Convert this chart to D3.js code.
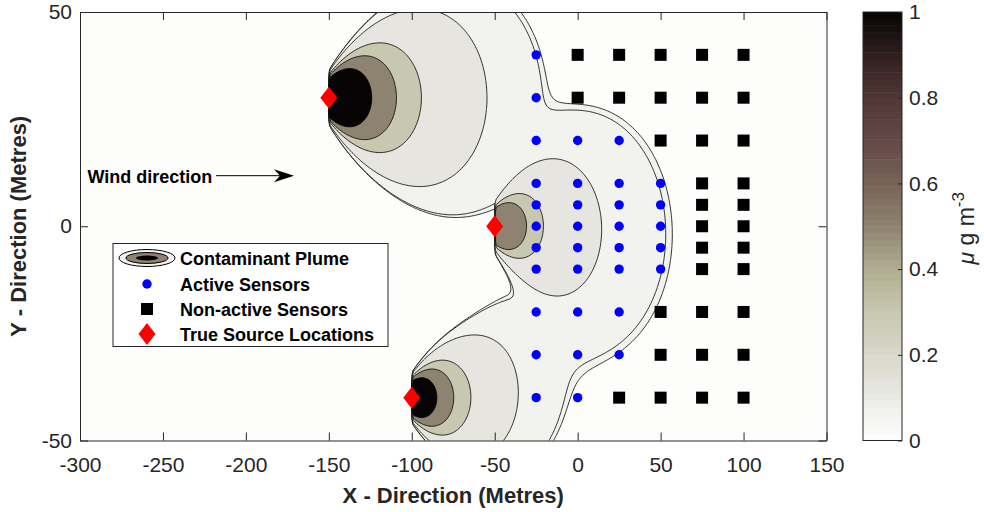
<!DOCTYPE html>
<html>
<head>
<meta charset="utf-8">
<script src="https://cdn.jsdelivr.net/npm/d3@7"></script>
<style>
  body { margin: 0; background: #fff; }
  svg { display: block; font-family: "Liberation Sans", Arial, Helvetica, sans-serif; }
</style>
</head>
<body>
<svg id="chart" width="984" height="512"></svg>
<script>
// ---- Sources (metres) and plume model parameters ----
const sourceX = [-150, -50, -100];
const sourceY = [30, 0, -40];
const sourceStrength = [806, 234, 390];
const sourcePeak = [Infinity, 0.85, Infinity];
const plumeSpread = 0.24;     // sigma_y per metre downwind
const plumeDecay = 1.9;       // power-law decay of centre-line concentration
const virtualOffset = 8;      // virtual source distance (m)

// ---- Contour levels (µg m^-3) ----
const contourLevels = [0.068, 0.071, 0.12, 0.3, 0.5, 1];

// ---- Colour map ----
const colorStops = [0, 0.07, 0.12, 0.2, 0.3, 0.4, 0.5, 0.6, 0.7, 0.8, 0.9, 1];
const colorValues = ["#fdfdfb", "#f2f2ee", "#e6e5df", "#d9d8ca", "#c8c7b0", "#b1ad92",
                     "#8e8270", "#776457", "#634948", "#523636", "#2f1f1f", "#060404"];

// ---- Sensors ----
const activeSensors = [
  [-25, 40], [-25, 30], [-25, 20], [-25, 10], [-25, 5], [-25, 0], [-25, -5], [-25, -10], [-25, -20], [-25, -30], [-25, -40],
  [0, 20], [0, 10], [0, 5], [0, 0], [0, -5], [0, -10], [0, -20], [0, -30], [0, -40],
  [25, 20], [25, 10], [25, 5], [25, 0], [25, -5], [25, -10], [25, -20], [25, -30],
  [50, 10], [50, 5], [50, 0], [50, -5], [50, -10]
];
const inactiveSensors = [
  [0, 40], [0, 30],
  [25, 40], [25, 30], [25, -40],
  [50, 40], [50, 30], [50, 20], [50, -20], [50, -30], [50, -40],
  [75, 40], [75, 30], [75, 20], [75, 10], [75, 5], [75, 0], [75, -5], [75, -10], [75, -20], [75, -30], [75, -40],
  [100, 40], [100, 30], [100, 20], [100, 10], [100, 5], [100, 0], [100, -5], [100, -10], [100, -20], [100, -30], [100, -40]
];

// ---- Axes ----
const xDomain = [-300, 150];
const yDomain = [-50, 50];
const xTicks = [-300, -250, -200, -150, -100, -50, 0, 50, 100, 150];
const yTicks = [-50, 0, 50];
const colorbarTicks = [0, 0.2, 0.4, 0.6, 0.8, 1];

// Wind annotation (data coordinates)
const windLabel = { x: -295.5, y: 10.1, text: "Wind direction" };
const windArrow = { x0: -218, x1: -171, y: 11.8 };

// ---------------------------------------------------------------
const svg = d3.select("#chart");
const pL = 80, pR = 826.5, pT = 12, pB = 440.5;
const x = d3.scaleLinear().domain(xDomain).range([pL, pR]);
const y = d3.scaleLinear().domain(yDomain).range([pB, pT]);
const color = d3.scaleLinear().domain(colorStops).range(colorValues).interpolate(d3.interpolateRgb);
const axisColor = "#262626";
const plainNumber = d => String(d);

svg.append("defs").append("clipPath").attr("id", "plotClip")
  .append("rect").attr("x", pL).attr("y", pT).attr("width", pR - pL).attr("height", pB - pT);

// Concentration field: sum of ground-level plumes advected in +x
function concentration(px, py) {
  let c = 0;
  for (let k = 0; k < sourceX.length; k++) {
    const dx = px - sourceX[k];
    if (dx <= 0) continue;
    const s = dx + virtualOffset;
    const sig = plumeSpread * s;
    const dy = py - sourceY[k];
    const v = sourceStrength[k] * Math.pow(s, -plumeDecay) * Math.exp(-dy * dy / (2 * sig * sig));
    c += Math.min(sourcePeak[k], v);
  }
  return c;
}

// Sample grid slightly larger than the axes so boundary edges stay outside the clip
const gx0 = -305, gy0 = -55, hx = 1, hy = 0.5;
const nx = Math.round((155 - gx0) / hx) + 1;
const ny = Math.round((55 - gy0) / hy) + 1;
const field = new Float64Array(nx * ny);
for (let j = 0; j < ny; j++) {
  for (let i = 0; i < nx; i++) {
    field[i + j * nx] = concentration(gx0 + i * hx, gy0 + j * hy);
  }
}

const contours = d3.contours().size([nx, ny]).thresholds(contourLevels)(field);
const gridToScreen = d3.geoTransform({
  point: function (gxp, gyp) {
    this.stream.point(x(gx0 + (gxp - 0.5) * hx), y(gy0 + (gyp - 0.5) * hy));
  }
});
const contourPath = d3.geoPath(gridToScreen);

const plot = svg.append("g").attr("clip-path", "url(#plotClip)");
plot.append("rect").attr("x", pL).attr("y", pT).attr("width", pR - pL).attr("height", pB - pT)
  .attr("fill", color(0));
plot.selectAll("path.band").data(contours).join("path")
  .attr("class", "band")
  .attr("d", contourPath)
  .attr("fill", d => color(d.value))
  .attr("stroke", "#000")
  .attr("stroke-width", 0.8)
  .attr("stroke-linejoin", "round");

// Sensors
plot.selectAll("circle.active").data(activeSensors).join("circle")
  .attr("class", "active")
  .attr("cx", d => x(d[0])).attr("cy", d => y(d[1])).attr("r", 4.7)
  .attr("fill", "#0000ff");
const sq = 12;
plot.selectAll("rect.inactive").data(inactiveSensors).join("rect")
  .attr("class", "inactive")
  .attr("x", d => x(d[0]) - sq / 2).attr("y", d => y(d[1]) - sq / 2)
  .attr("width", sq).attr("height", sq).attr("fill", "#000");

// Source markers
const dw = 8.5, dh = 11;
const diamond = (cx, cy) => `M${cx},${cy - dh}L${cx + dw},${cy}L${cx},${cy + dh}L${cx - dw},${cy}Z`;
plot.selectAll("path.source").data(sourceX.map((sx, i) => [sx, sourceY[i]])).join("path")
  .attr("class", "source")
  .attr("d", d => diamond(x(d[0]), y(d[1])))
  .attr("fill", "#ff0000");

// Wind annotation
plot.append("text")
  .attr("x", x(windLabel.x)).attr("y", y(windLabel.y))
  .attr("font-size", 18).attr("font-weight", "bold").attr("fill", "#000")
  .text(windLabel.text);
const ax0 = x(windArrow.x0), ax1 = x(windArrow.x1), ay = y(windArrow.y);
plot.append("line").attr("x1", ax0).attr("x2", ax1 - 10).attr("y1", ay).attr("y2", ay)
  .attr("stroke", "#000").attr("stroke-width", 1);
plot.append("path")
  .attr("d", `M${ax1},${ay}L${ax1 - 20},${ay - 6.5}L${ax1 - 14},${ay}L${ax1 - 20},${ay + 6.5}Z`)
  .attr("fill", "#000");

// Axes (ticks point inwards on all four sides)
const tickLen = 8;
const gx = svg.append("g").attr("transform", `translate(0,${pB})`)
  .call(d3.axisBottom(x).tickValues(xTicks).tickSizeInner(-tickLen).tickSizeOuter(0).tickPadding(17)
    .tickFormat(plainNumber));
const gxt = svg.append("g").attr("transform", `translate(0,${pT})`)
  .call(d3.axisTop(x).tickValues(xTicks).tickSizeInner(-tickLen).tickSizeOuter(0).tickFormat(""));
const gy = svg.append("g").attr("transform", `translate(${pL},0)`)
  .call(d3.axisLeft(y).tickValues(yTicks).tickSizeInner(-tickLen).tickSizeOuter(0).tickPadding(8)
    .tickFormat(plainNumber));
const gyr = svg.append("g").attr("transform", `translate(${pR},0)`)
  .call(d3.axisRight(y).tickValues(yTicks).tickSizeInner(-tickLen).tickSizeOuter(0).tickFormat(""));
[gx, gxt, gy, gyr].forEach(g => {
  g.selectAll("path.domain").attr("stroke", axisColor).attr("stroke-width", 1);
  g.selectAll(".tick line").attr("stroke", axisColor).attr("stroke-width", 1);
  g.selectAll(".tick text").attr("fill", axisColor).attr("font-size", 21)
    .attr("font-family", "'Liberation Sans', Arial, Helvetica, sans-serif");
});

// Axis titles
svg.append("text").attr("x", (pL + pR) / 2).attr("y", 503)
  .attr("text-anchor", "middle").attr("font-size", 22).attr("font-weight", "bold").attr("fill", axisColor)
  .text("X - Direction (Metres)");
svg.append("text").attr("transform", `translate(26,${(pT + pB) / 2}) rotate(-90)`)
  .attr("text-anchor", "middle").attr("font-size", 22).attr("font-weight", "bold").attr("fill", axisColor)
  .text("Y - Direction (Metres)");

// Legend
const lg = svg.append("g");
lg.append("rect").attr("x", 113).attr("y", 243.5).attr("width", 275).attr("height", 103)
  .attr("fill", "#fff").attr("stroke", axisColor).attr("stroke-width", 1);
const iconX = 147;
const rows = [258, 284, 309, 334];
lg.append("ellipse").attr("cx", iconX).attr("cy", rows[0]).attr("rx", 28).attr("ry", 8.5)
  .attr("fill", color(0.07)).attr("stroke", "#000").attr("stroke-width", 1);
lg.append("ellipse").attr("cx", iconX).attr("cy", rows[0]).attr("rx", 21).attr("ry", 5.5)
  .attr("fill", color(0.5)).attr("stroke", "#000").attr("stroke-width", 1);
lg.append("ellipse").attr("cx", iconX).attr("cy", rows[0]).attr("rx", 11).attr("ry", 2.6)
  .attr("fill", "#000");
lg.append("circle").attr("cx", iconX).attr("cy", rows[1]).attr("r", 4.7).attr("fill", "#0000ff");
lg.append("rect").attr("x", iconX - sq / 2).attr("y", rows[2] - sq / 2).attr("width", sq).attr("height", sq).attr("fill", "#000");
lg.append("path").attr("d", diamond(iconX, rows[3])).attr("fill", "#ff0000");
const legendLabels = ["Contaminant Plume", "Active Sensors", "Non-active Sensors", "True Source Locations"];
lg.selectAll("text").data(legendLabels).join("text")
  .attr("x", 180).attr("y", (d, i) => rows[i] + 6.5)
  .attr("font-size", 18).attr("font-weight", "bold").attr("fill", "#000")
  .text(d => d);

// Colorbar
const cbLeft = 863, cbRight = 902;
const cbY = d3.scaleLinear().domain([0, 1]).range([pB, pT]);
const nSteps = 64;
const steps = d3.range(nSteps);
const cb = svg.append("g");
cb.selectAll("rect.step").data(steps).join("rect")
  .attr("class", "step")
  .attr("x", cbLeft).attr("width", cbRight - cbLeft)
  .attr("y", i => cbY((i + 1) / nSteps)).attr("height", i => cbY(i / nSteps) - cbY((i + 1) / nSteps) + 0.5)
  .attr("fill", i => color((i + 0.5) / nSteps));
cb.append("rect").attr("x", cbLeft).attr("y", pT).attr("width", cbRight - cbLeft).attr("height", pB - pT)
  .attr("fill", "none").attr("stroke", axisColor).attr("stroke-width", 1);
const gcb = cb.append("g").attr("transform", `translate(${cbRight},0)`)
  .call(d3.axisRight(cbY).tickValues(colorbarTicks).tickSizeInner(-4).tickSizeOuter(0).tickPadding(7)
    .tickFormat(plainNumber));
gcb.select("path.domain").remove();
gcb.selectAll(".tick line").attr("stroke", axisColor);
gcb.selectAll(".tick text").attr("fill", axisColor).attr("font-size", 21)
  .attr("font-family", "'Liberation Sans', Arial, Helvetica, sans-serif");

const cbLabel = svg.append("text").attr("transform", `translate(974,${(pT + pB) / 2 + 2}) rotate(-90)`)
  .attr("text-anchor", "middle").attr("font-size", 23).attr("fill", axisColor);
cbLabel.append("tspan").attr("font-style", "italic").text("\u03bc");
cbLabel.append("tspan").text(" g m");
cbLabel.append("tspan").attr("dy", -10).attr("font-size", 17).text("-3");
</script>
</body>
</html>
